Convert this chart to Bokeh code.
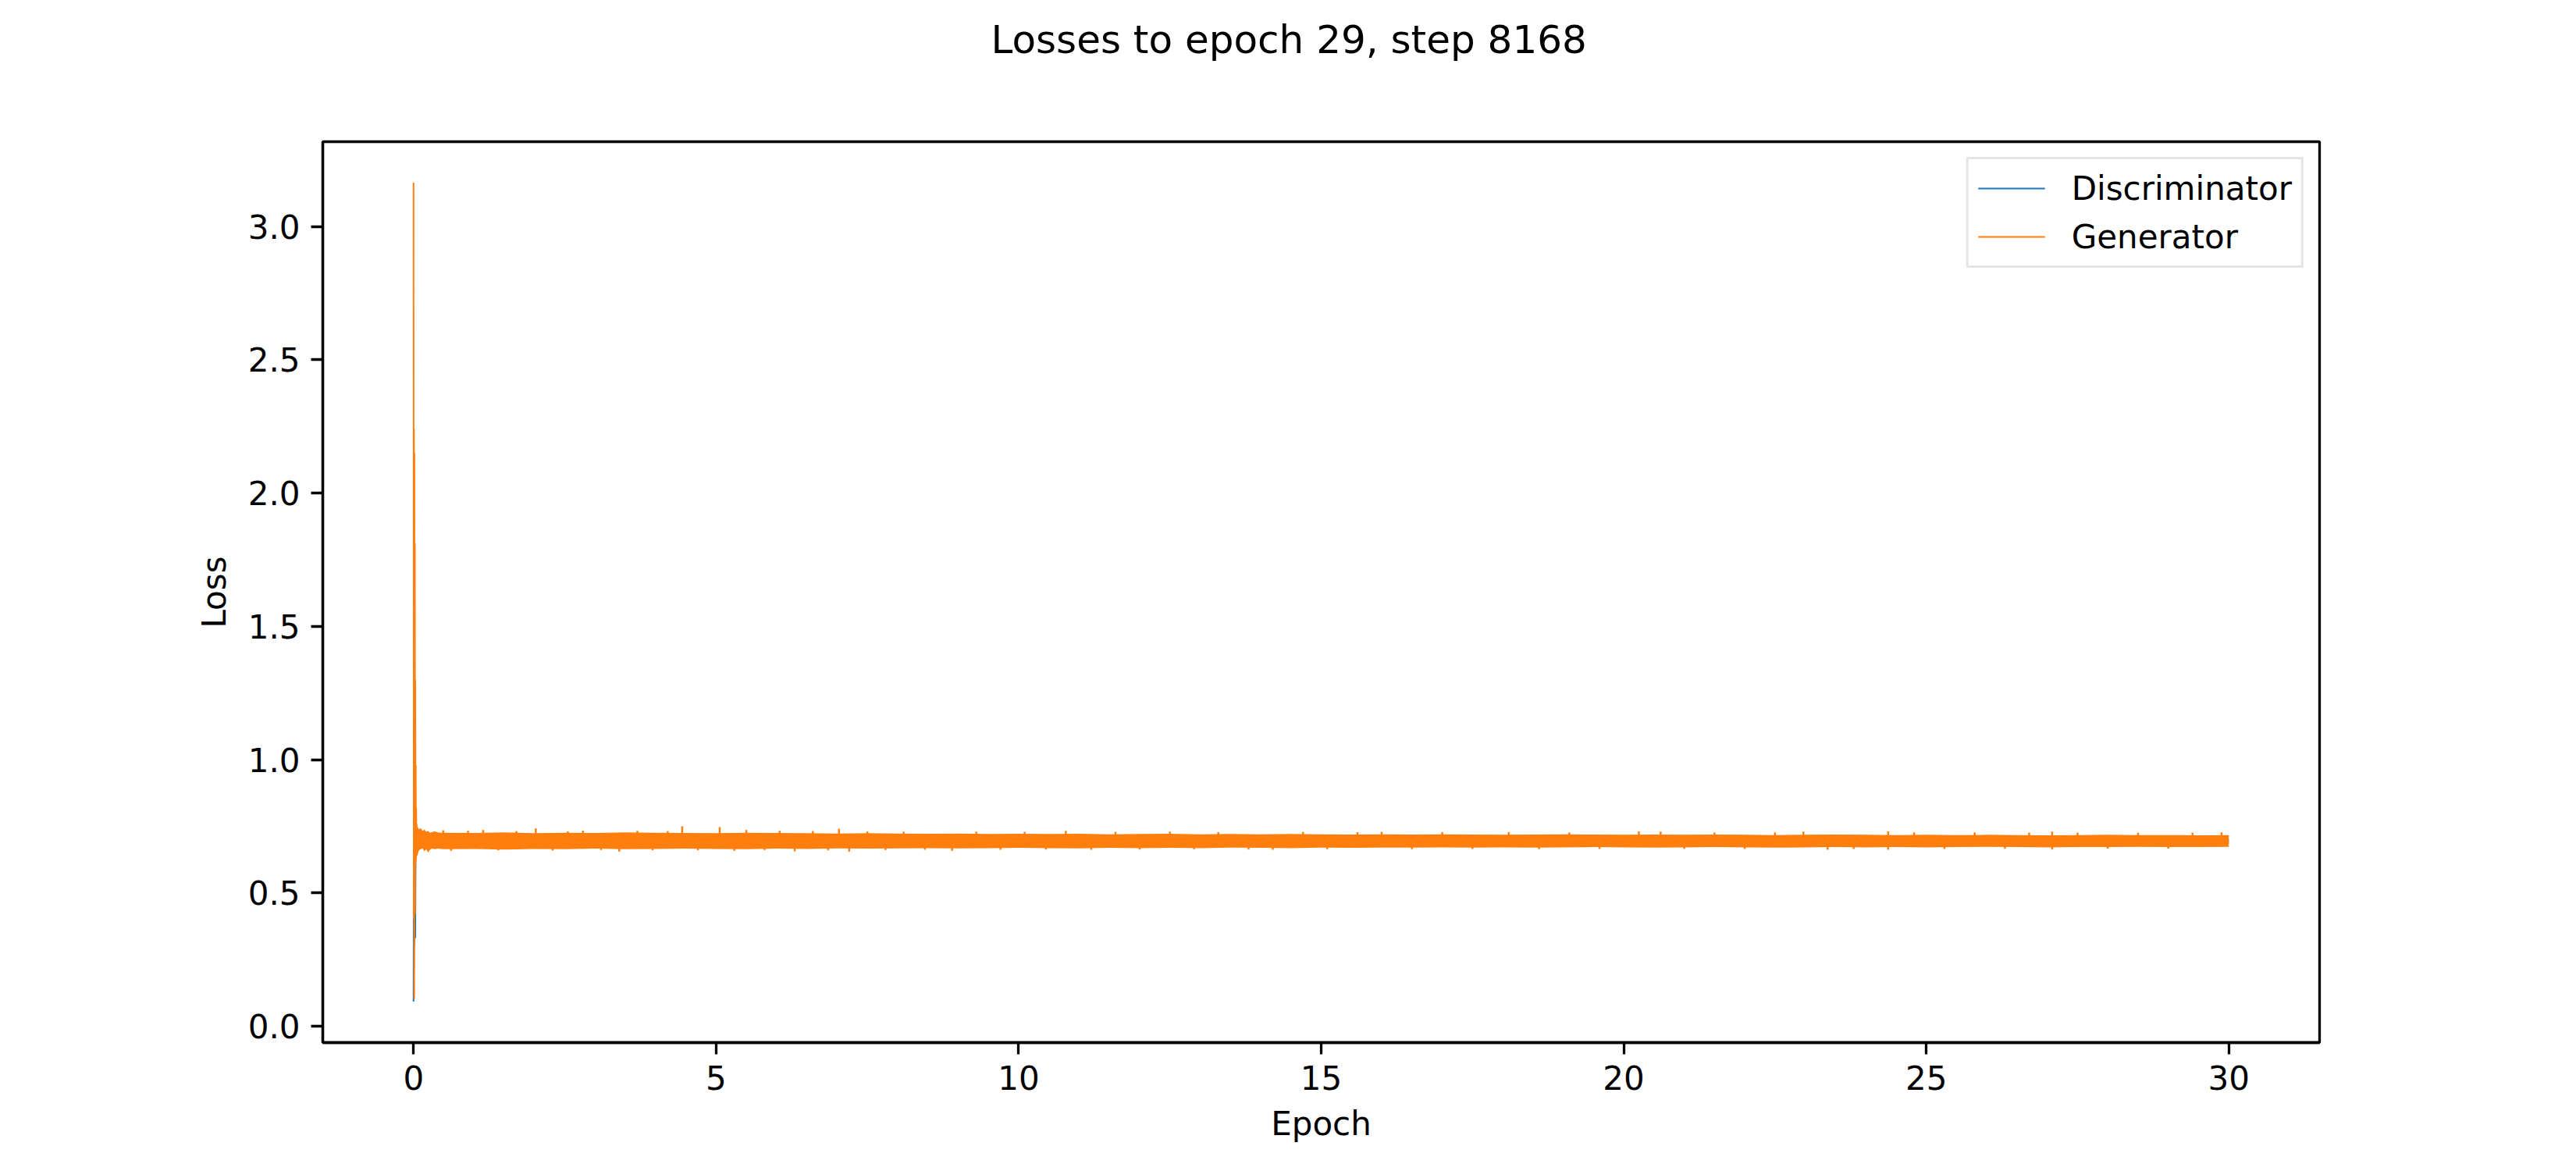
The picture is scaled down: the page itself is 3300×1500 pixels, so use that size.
from bokeh.plotting import figure
from bokeh.models import Range1d, FixedTicker, PrintfTickFormatter, Legend, LegendItem, Title
from bokeh.embed import file_html
from bokeh.resources import INLINE

# ---------------- data ----------------
steps_per_epoch = 272  # 8168 steps over ~30 epochs

# first training steps (transient spike), step index and loss
transient_steps = [0, 1, 2, 3, 4, 5, 6, 7, 8, 9, 10, 11, 12, 13, 14, 15, 16, 17, 18, 19]
gen_transient = [3.165, 0.40, 2.24, 0.103, 2.15, 0.55, 1.81, 0.42, 1.30, 0.60,
                 0.98, 0.62, 0.82, 0.66, 0.76, 0.64, 0.74, 0.66, 0.72, 0.68]
disc_transient = [0.0925, 0.62, 0.22, 0.78, 0.30, 0.74, 0.36, 0.70, 0.33, 0.60,
                  0.72, 0.64, 0.71, 0.66, 0.70, 0.67, 0.70, 0.68, 0.70, 0.69]

# envelope of the dense noisy generator trace (epoch, upper, lower)
gen_env_epoch = [0.06, 0.09, 0.12, 0.15, 0.18, 0.21, 0.24, 0.27, 0.30, 0.35, 0.40, 0.45,
                 0.5, 1.0, 1.5, 2.0, 2.5, 3.0, 3.5, 4.0, 4.5, 5.0, 5.5, 6.0, 6.5, 7.0, 7.5, 8.0,
                 8.5, 9.0, 9.5, 10.0, 10.5, 11.0, 11.5, 12.0, 12.5, 13.0, 13.5, 14.0, 14.5, 15.0, 15.5, 16.0,
                 16.5, 17.0, 17.5, 18.0, 18.5, 19.0, 19.5, 20.0, 20.5, 21.0, 21.5, 22.0, 22.5, 23.0,
                 23.5, 24.0, 24.5, 25.0, 25.5, 26.0, 26.5, 27.0, 27.5, 28.0, 28.5, 29.0, 29.5, 30.0]
gen_env_hi = [0.752, 0.738, 0.744, 0.732, 0.738, 0.729, 0.733, 0.726, 0.728, 0.731, 0.727, 0.726,
              0.726, 0.725, 0.727, 0.724, 0.726, 0.725, 0.727, 0.726, 0.725, 0.724, 0.726, 0.725, 0.724, 0.723, 0.724, 0.723,
              0.722, 0.723, 0.721, 0.722, 0.721, 0.722, 0.720, 0.721, 0.722, 0.720, 0.721, 0.720, 0.721, 0.720, 0.719, 0.720,
              0.719, 0.720, 0.719, 0.718, 0.719, 0.720, 0.719, 0.718, 0.719, 0.718, 0.719, 0.718, 0.717, 0.718,
              0.719, 0.718, 0.717, 0.718, 0.717, 0.718, 0.717, 0.716, 0.717, 0.718, 0.717, 0.717, 0.716, 0.717]
gen_env_lo = [0.640, 0.660, 0.664, 0.667, 0.656, 0.664, 0.652, 0.661, 0.666, 0.664, 0.666, 0.665,
              0.664, 0.665, 0.663, 0.665, 0.664, 0.666, 0.664, 0.665, 0.666, 0.665, 0.664, 0.666, 0.665, 0.667, 0.666, 0.667,
              0.668, 0.667, 0.668, 0.669, 0.668, 0.667, 0.669, 0.668, 0.669, 0.668, 0.670, 0.669, 0.668, 0.670, 0.669, 0.670,
              0.670, 0.671, 0.670, 0.671, 0.670, 0.671, 0.672, 0.671, 0.670, 0.671, 0.672, 0.671, 0.670, 0.671,
              0.672, 0.671, 0.672, 0.671, 0.672, 0.673, 0.672, 0.671, 0.672, 0.672, 0.673, 0.672, 0.672, 0.673]

# envelope of the discriminator trace (hidden under the generator)
disc_env_epoch = [0.06, 0.15, 0.30, 0.5, 1, 2, 3, 4, 5, 6, 7, 8, 9, 10, 11, 12, 13, 14, 15,
                  16, 17, 18, 19, 20, 21, 22, 23, 24, 25, 26, 27, 28, 29, 30]
disc_env_hi = [0.720, 0.715, 0.712, 0.712, 0.711, 0.712, 0.710, 0.711, 0.710, 0.709, 0.710, 0.709, 0.708,
               0.709, 0.708, 0.708, 0.707, 0.708, 0.707, 0.707, 0.706, 0.707, 0.706, 0.707, 0.706, 0.706,
               0.705, 0.706, 0.705, 0.706, 0.705, 0.705, 0.704, 0.705]
disc_env_lo = [0.665, 0.672, 0.675, 0.676, 0.677, 0.676, 0.677, 0.678, 0.677, 0.678, 0.679, 0.678, 0.679,
               0.680, 0.679, 0.680, 0.681, 0.680, 0.681, 0.681, 0.682, 0.681, 0.682, 0.682, 0.683, 0.682,
               0.683, 0.683, 0.682, 0.683, 0.684, 0.683, 0.684, 0.684]

# isolated generator spikes sticking out of the band (epoch, low, high)
spike_epoch = [0.49, 0.62, 0.9, 1.15, 1.4, 1.7, 2.02, 2.3, 2.55, 2.8, 3.1, 3.4, 3.7, 3.95, 4.2, 4.44,
               4.7, 5.06, 5.3, 5.5, 5.8, 6.05, 6.3, 6.6, 6.85, 7.03, 7.2, 7.5, 7.8, 8.1, 8.45, 8.9,
               9.3, 9.7, 10.1, 10.45, 10.78, 11.2, 11.6, 12.0, 12.5, 12.9, 13.3, 13.8, 14.2, 14.7,
               15.1, 15.6, 16.0, 16.5, 17.0, 17.5, 18.1, 18.6, 19.1, 19.6, 20.25, 20.61, 21.0, 21.5,
               22.0, 22.5, 22.97, 23.37, 23.8, 24.37, 24.8, 25.3, 25.8, 26.3, 26.7, 27.08, 27.5, 28.0,
               28.5, 29.0, 29.4, 29.88]
spike_lo = [0.69, 0.658, 0.69, 0.69, 0.660, 0.69, 0.69, 0.659, 0.69, 0.69, 0.661, 0.655, 0.69, 0.660, 0.69, 0.69,
            0.660, 0.69, 0.658, 0.69, 0.661, 0.69, 0.656, 0.69, 0.660, 0.69, 0.655, 0.69, 0.661, 0.69, 0.662, 0.658,
            0.69, 0.662, 0.69, 0.663, 0.69, 0.662, 0.69, 0.663, 0.69, 0.664, 0.69, 0.663, 0.662, 0.69,
            0.664, 0.69, 0.69, 0.664, 0.69, 0.665, 0.69, 0.664, 0.69, 0.665, 0.69, 0.69, 0.665, 0.69,
            0.665, 0.69, 0.69, 0.662, 0.665, 0.662, 0.69, 0.665, 0.69, 0.666, 0.69, 0.663, 0.69, 0.666,
            0.69, 0.666, 0.69, 0.69]
spike_hi = [0.735, 0.69, 0.733, 0.736, 0.69, 0.732, 0.742, 0.69, 0.731, 0.734, 0.69, 0.69, 0.733, 0.69, 0.732, 0.750,
            0.69, 0.747, 0.69, 0.736, 0.69, 0.733, 0.69, 0.732, 0.69, 0.741, 0.69, 0.731, 0.69, 0.730, 0.69, 0.69,
            0.730, 0.69, 0.729, 0.69, 0.733, 0.69, 0.729, 0.69, 0.730, 0.69, 0.728, 0.69, 0.69, 0.729,
            0.69, 0.728, 0.729, 0.69, 0.728, 0.69, 0.728, 0.69, 0.727, 0.69, 0.731, 0.730, 0.69, 0.727,
            0.69, 0.727, 0.730, 0.69, 0.69, 0.731, 0.727, 0.69, 0.727, 0.69, 0.726, 0.730, 0.726, 0.69,
            0.726, 0.69, 0.726, 0.727]

x_ticks = [0, 5, 10, 15, 20, 25, 30]
y_ticks = [0.0, 0.5, 1.0, 1.5, 2.0, 2.5, 3.0]
title_text = "Losses to epoch 29, step 8168"

BLUE = "#1f77b4"
ORANGE = "#ff7f0e"
FONT = "DejaVu Sans"

# ---------------- figure ----------------
p = figure(width=3284, height=1484, output_backend="svg", toolbar_location=None, title=None,
           x_range=Range1d(-1.5, 31.5), y_range=Range1d(-0.0615, 3.3186),
           min_border_left=413, min_border_right=313, min_border_top=181, min_border_bottom=149)

p.background_fill_color = "white"
p.border_fill_color = "white"
p.xgrid.visible = False
p.ygrid.visible = False
p.outline_line_color = "black"
p.outline_line_width = 3.3

# spacer panel between frame and title (empty text)
spacer = Title(text=" ", text_font=FONT, text_font_size="50px", standoff=42)
p.add_layout(spacer, "above")
main_title = Title(text=title_text, text_font=FONT, text_font_size="50px", text_font_style="normal",
                   text_color="black", align="left", offset=856, standoff=0)
p.add_layout(main_title, "above")

for ax in (p.xaxis[0], p.yaxis[0]):
    ax.axis_line_width = 3.3
    ax.major_tick_line_width = 3.3
    ax.major_tick_out = 15
    ax.major_tick_in = 0
    ax.minor_tick_out = 0
    ax.minor_tick_in = 0
    ax.major_label_text_font = FONT
    ax.major_label_text_font_size = "42px"
    ax.major_label_text_color = "black"
    ax.major_label_standoff = 14
    ax.axis_label_text_font = FONT
    ax.axis_label_text_font_size = "42px"
    ax.axis_label_text_font_style = "normal"
    ax.axis_label_text_color = "black"
    ax.axis_label_standoff = 16

p.xaxis[0].ticker = FixedTicker(ticks=x_ticks)
p.yaxis[0].ticker = FixedTicker(ticks=y_ticks)
p.yaxis[0].formatter = PrintfTickFormatter(format="%.1f")
p.xaxis[0].axis_label = "Epoch"
p.yaxis[0].axis_label = "Loss"

# ---------------- glyphs ----------------
t_epoch = [s / steps_per_epoch for s in transient_steps]

# discriminator (drawn first, under the generator)
p.varea(x=disc_env_epoch, y1=disc_env_lo, y2=disc_env_hi, fill_color=BLUE, fill_alpha=1.0)
disc_line = p.line(t_epoch, disc_transient, line_color=BLUE, line_width=2)

# generator
p.varea(x=gen_env_epoch, y1=gen_env_lo, y2=gen_env_hi, fill_color=ORANGE, fill_alpha=1.0)
p.segment(x0=spike_epoch, x1=spike_epoch, y0=spike_lo, y1=spike_hi, line_color=ORANGE, line_width=2.5)
gen_line = p.line(t_epoch, gen_transient, line_color=ORANGE, line_width=2)

legend = Legend(items=[LegendItem(label="Discriminator", renderers=[disc_line]),
                       LegendItem(label="Generator", renderers=[gen_line])],
                location="top_right")
legend.label_text_font = FONT
legend.label_text_font_size = "42px"
legend.label_text_color = "black"
legend.label_height = 50
legend.glyph_height = 50
legend.glyph_width = 86
legend.label_standoff = 34
legend.spacing = 12
legend.padding = 12
legend.margin = 20
legend.border_line_color = "#cccccc"
legend.border_line_width = 3
legend.background_fill_color = "white"
legend.background_fill_alpha = 0.8
p.add_layout(legend)

open("out.html", "w").write(file_html(p, INLINE))
